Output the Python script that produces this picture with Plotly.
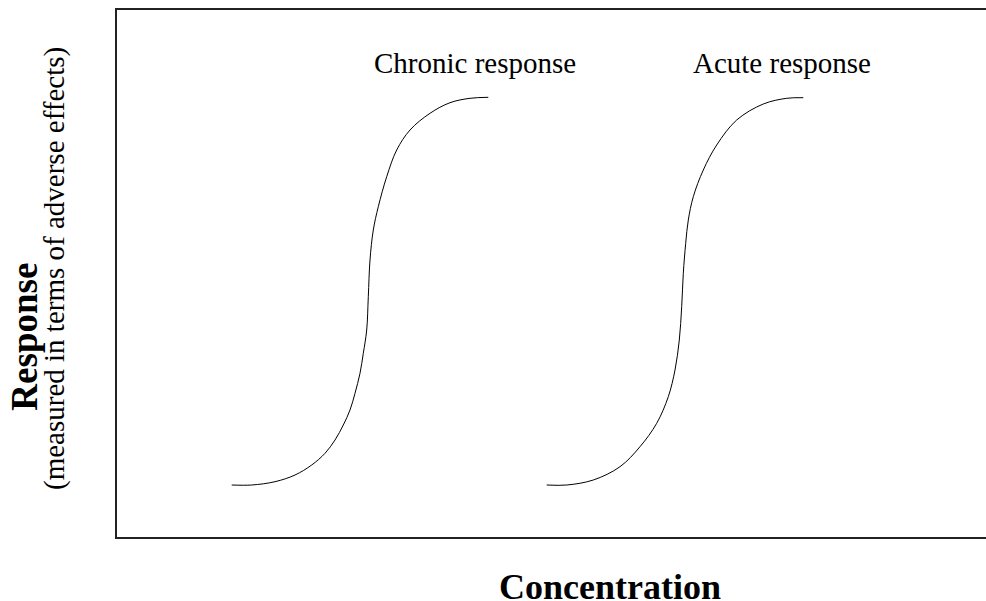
import plotly.graph_objects as go

# Data (arbitrary concentration / response units)
chronic_x = [114.7, 134.7, 158, 178, 194.7, 208, 218, 226.3, 233, 238, 243, 246.3, 249.7,
             251.3, 253, 256.3, 261.3, 269.7, 279.7, 293, 313, 333, 353, 371.3]
chronic_y = [52, 52, 55.3, 62, 72, 83.7, 97, 112, 127, 143.7, 163.7, 183.7, 207,
             240.3, 277, 307, 330.3, 360.3, 387, 407, 423.7, 434.3, 438.7, 439.7]

acute_x = [429.7, 449.7, 476.3, 503, 523, 539.7, 551.3, 558, 562.3, 564.7, 566.3,
           568.7, 571.3, 576.3, 586.3, 599.7, 619.7, 646.3, 669.7, 686.3]
acute_y = [52, 52, 57, 70.3, 90.3, 113.7, 140.3, 167, 197, 230.3, 263.7,
           293.7, 317, 340.3, 367, 392, 417, 433, 438.7, 439.3]

labels = ["Chronic response", "Acute response"]
label_x = [358, 664.5]
label_y = [474, 474]

x_title = "Concentration"
y_title_main = "Response"
y_title_sub = "(measured in terms of adverse effects)"

FONT = "Liberation Serif"

fig = go.Figure()
for xs, ys, name in [(chronic_x, chronic_y, labels[0]), (acute_x, acute_y, labels[1])]:
    fig.add_trace(go.Scatter(x=xs, y=ys, mode="lines", name=name,
                             line=dict(color="black", width=1, shape="spline", smoothing=1),
                             hoverinfo="skip"))

for t, lx, ly in zip(labels, label_x, label_y):
    fig.add_annotation(x=lx, y=ly, xref="x", yref="y", text=t, showarrow=False,
                       font=dict(family=FONT, size=29, color="black"),
                       xanchor="center", yanchor="middle")

fig.add_annotation(x=0.567, y=-0.095, xref="paper", yref="paper", text=f"<b>{x_title}</b>",
                   showarrow=False, font=dict(family=FONT, size=36, color="black"),
                   xanchor="center", yanchor="middle")
fig.add_annotation(x=-0.1065, y=0.381, xref="paper", yref="paper", text=f"<b>{y_title_main}</b>",
                   showarrow=False, textangle=-90, font=dict(family=FONT, size=37, color="black"),
                   xanchor="center", yanchor="middle")
fig.add_annotation(x=-0.0728, y=0.51, xref="paper", yref="paper", text=y_title_sub,
                   showarrow=False, textangle=-90, font=dict(family=FONT, size=29, color="black"),
                   xanchor="center", yanchor="middle")

fig.update_layout(
    width=986, height=601,
    margin=dict(l=117, r=0, t=10, b=64),
    paper_bgcolor="white", plot_bgcolor="white",
    showlegend=False,
    xaxis=dict(range=[0, 869], showgrid=False, zeroline=False, showticklabels=False,
               ticks="", showline=True, linecolor="#222", linewidth=1.5, mirror=True,
               fixedrange=True),
    yaxis=dict(range=[0, 527], showgrid=False, zeroline=False, showticklabels=False,
               ticks="", showline=True, linecolor="#222", linewidth=1.5, mirror=False,
               fixedrange=True),
)

fig.write_html("out.html", config={"displayModeBar": False},
               post_script="document.body.style.margin='0';document.body.style.overflow='hidden';")
